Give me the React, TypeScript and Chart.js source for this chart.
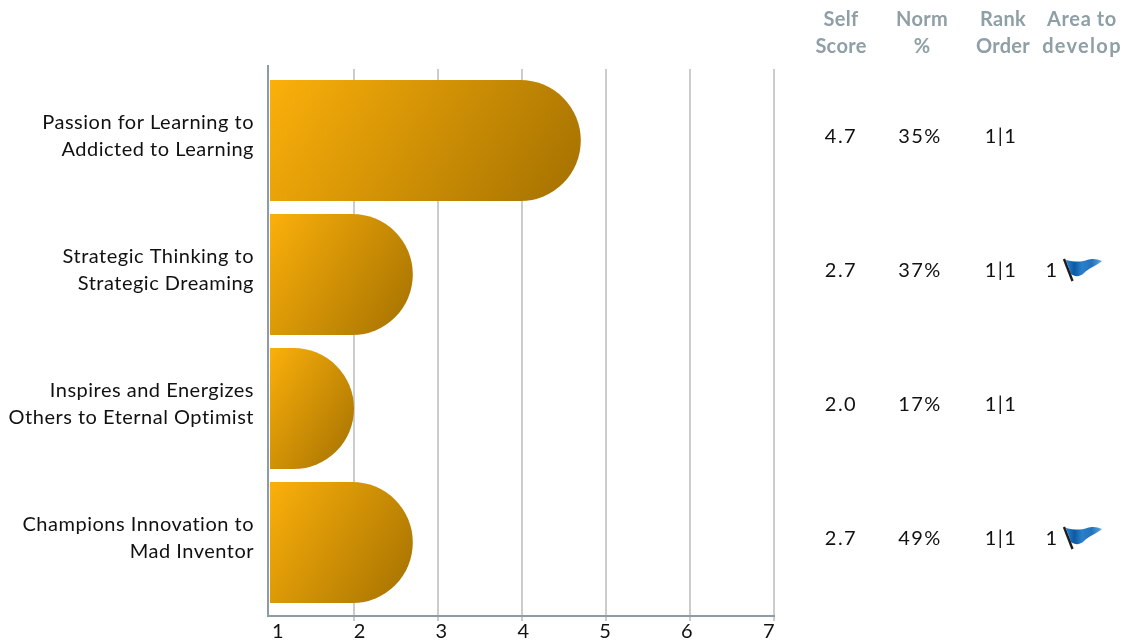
import React, { useEffect, useRef } from "react";
import { Chart, registerables, BarElement } from "chart.js";

Chart.register(...registerables);

const categories: string[][] = [
  ["Passion for Learning to", "Addicted to Learning"],
  ["Strategic Thinking to", "Strategic Dreaming"],
  ["Inspires and Energizes", "Others to Eternal Optimist"],
  ["Champions Innovation to", "Mad Inventor"],
];
const selfScores = [4.7, 2.7, 2.0, 2.7];
const selfScoreLabels = ["4.7", "2.7", "2.0", "2.7"];
const normPercents = ["35%", "37%", "17%", "49%"];
const rankOrders = ["1|1", "1|1", "1|1", "1|1"];
const areaToDevelop = ["", "1", "", "1"];
const xTicks = [1, 2, 3, 4, 5, 6, 7];
const headers: [string, string][] = [
  ["Self", "Score"],
  ["Norm", "%"],
  ["Rank", "Order"],
  ["Area to", "develop"],
];

const FONT = "Lato, Carlito, sans-serif";
const headerX = [841, 922, 1003, 1082];
const rowX = [841, 920, 1001, 1052];

// Chart.js caps a corner radius at half the bar's length; the short bar here
// keeps the same large radius as the others, so the bar's outline is redrawn
// from the element's own computed geometry.
(BarElement.prototype as any).draw = function (ctx: CanvasRenderingContext2D) {
  const { x, y, base, height } = (this as any).getProps(["x", "y", "base", "height"]);
  const r = height / 2;
  ctx.save();
  ctx.fillStyle = (this as any).options.backgroundColor;
  ctx.beginPath();
  (ctx as any).roundRect(base, y - r, x - base, height, [0, r, r, 0]);
  ctx.fill();
  ctx.restore();
};

function drawFlag(ctx: CanvasRenderingContext2D, x: number, y: number) {
  ctx.save();
  ctx.translate(x, y);
  const g = ctx.createLinearGradient(0, 0, 38, 0);
  g.addColorStop(0, "#0b4f92");
  g.addColorStop(0.14, "#1f78c8");
  g.addColorStop(0.3, "#0c5aa2");
  g.addColorStop(0.5, "#2a80cc");
  g.addColorStop(0.75, "#2372bc");
  g.addColorStop(1, "#5aa5de");
  ctx.fillStyle = g;
  ctx.beginPath();
  ctx.moveTo(3, 1);
  ctx.bezierCurveTo(12, 3, 18, 3, 24, 1);
  ctx.bezierCurveTo(30, -1, 34, 0, 39, 2);
  ctx.bezierCurveTo(33, 7, 26, 9, 21, 14);
  ctx.bezierCurveTo(17, 18, 12, 18, 8, 15);
  ctx.closePath();
  ctx.fill();
  ctx.strokeStyle = "#1c1c1c";
  ctx.lineWidth = 2.4;
  ctx.beginPath();
  ctx.moveTo(1, 0);
  ctx.lineTo(9.5, 22);
  ctx.stroke();
  ctx.restore();
}

const tablePlugin = {
  id: "scoreTable",
  beforeUpdate(chart: any) {
    chart.ctx.letterSpacing = "0.5px";
  },
  beforeDraw(chart: any) {
    chart.ctx.letterSpacing = "0.5px";
  },
  beforeDatasetsDraw(chart: any) {
    const { ctx } = chart;
    ctx.save();
    ctx.fillStyle = "#ffffff";
    ctx.fillRect(270, 60, 510, 9);
    ctx.restore();
  },
  afterDraw(chart: any) {
    const { ctx, scales } = chart;
    ctx.save();
    ctx.textAlign = "center";
    ctx.textBaseline = "middle";
    ctx.font = `bold 20px ${FONT}`;
    ctx.fillStyle = "#8f9fa6";
    headers.forEach((h, i) => {
      ctx.letterSpacing = i === 3 ? "0.6px" : "0.3px";
      ctx.fillText(h[0], headerX[i], 20);
      ctx.letterSpacing = i === 3 ? "1.3px" : "0.3px";
      ctx.fillText(h[1], headerX[i], 47);
    });
    ctx.font = `20px ${FONT}`;
    ctx.fillStyle = "#111111";
    ctx.letterSpacing = "1.5px";
    categories.forEach((_, i) => {
      const y = scales.y.getPixelForValue(i) - 3.5;
      ctx.fillText(selfScoreLabels[i], rowX[0], y);
      ctx.fillText(normPercents[i], rowX[1], y);
      ctx.fillText(rankOrders[i], rowX[2], y);
      if (areaToDevelop[i]) {
        ctx.fillText(areaToDevelop[i], rowX[3], y);
        drawFlag(ctx, 1063, y - 12);
      }
    });
    ctx.restore();
  },
};

function barGradient(c: any) {
  const { chart, dataIndex } = c;
  const { x, y } = chart.scales;
  if (!x || !y || !chart.chartArea) return "#d09000";
  const v = selfScores[dataIndex];
  const left = x.getPixelForValue(1);
  const right = x.getPixelForValue(v);
  const cy = y.getPixelForValue(dataIndex);
  const w = right - left;
  const h = 121;
  const a = (32 * Math.PI) / 180;
  const dx = Math.cos(a);
  const dy = Math.sin(a);
  const L = (w * dx + h * dy) / 2;
  const cx = (left + right) / 2;
  const g = chart.ctx.createLinearGradient(cx - L * dx, cy - L * dy, cx + L * dx, cy + L * dy);
  g.addColorStop(0, "#fbb00b");
  g.addColorStop(1, "#a37000");
  return g;
}

export default function App() {
  const ref = useRef<HTMLCanvasElement>(null);
  useEffect(() => {
    if (!ref.current) return;
    const chart = new Chart(ref.current, {
      type: "bar",
      data: {
        datasets: [
          {
            data: selfScores.map((v, i) => ({ x: v, y: i })),
            base: 1,
            barThickness: 121,
            backgroundColor: barGradient,
            borderWidth: 0,
            borderSkipped: false,
          } as any,
        ],
      },
      options: {
        indexAxis: "y",
        responsive: false,
        animation: false,
        parsing: false,
        layout: { padding: { top: 66, right: 356, left: 0, bottom: 0 } },
        plugins: { legend: { display: false }, tooltip: { enabled: false }, title: { display: false } },
        scales: {
          y: {
            type: "linear",
            reverse: true,
            offset: false,
            min: -0.556,
            max: 3.5485,
            afterBuildTicks: (s: any) => {
              s.ticks = categories.map((_, i) => ({ value: i }));
            },
            afterFit: (s: any) => {
              s.width = 268;
              s.paddingTop = 0;
              s.paddingBottom = 0;
            },
            grid: { display: false },
            border: { display: true, color: "#8d9ca2", width: 2 },
            ticks: {
              autoSkip: false,
              padding: 6,
              labelOffset: -4,
              color: "#111111",
              font: { family: FONT, size: 20, lineHeight: 1.35 },
              callback: (v: any) => categories[v as number],
            },
          },
          x: {
            type: "linear",
            position: "bottom",
            min: 0.976,
            max: 7,
            weight: 0,
            afterBuildTicks: (s: any) => {
              s.ticks = xTicks.slice(1).map((value) => ({ value }));
            },
            afterFit: (s: any) => {
              s.height = 0;
              s.paddingLeft = 0;
              s.paddingRight = 0;
            },
            grid: { display: true, color: "#cccccc", lineWidth: 2, tickLength: 5, tickColor: "#cccccc" },
            border: { display: true, color: "#8d9ca2", width: 2 },
            ticks: { display: false },
          },
          x2: {
            type: "linear",
            position: "bottom",
            min: 0.878,
            max: 7.061,
            weight: 1,
            afterBuildTicks: (s: any) => {
              s.ticks = xTicks.map((value) => ({ value }));
            },
            afterFit: (s: any) => {
              s.height = 25;
              s.paddingLeft = 0;
              s.paddingRight = 0;
            },
            grid: { display: false, drawTicks: false, tickLength: 0 },
            border: { display: false },
            ticks: {
              autoSkip: false,
              maxRotation: 0,
              padding: 4,
              color: "#111111",
              font: { family: FONT, size: 20 },
              callback: (v: any) => String(v),
            },
          },
        },
      },
      plugins: [tablePlugin],
    } as any);
    return () => chart.destroy();
  }, []);
  return (
    <canvas
      ref={ref}
      width={1130}
      height={641}
      style={{ position: "absolute", left: 0, top: 0, width: 1130, height: 641, background: "#fff" }}
    />
  );
}
